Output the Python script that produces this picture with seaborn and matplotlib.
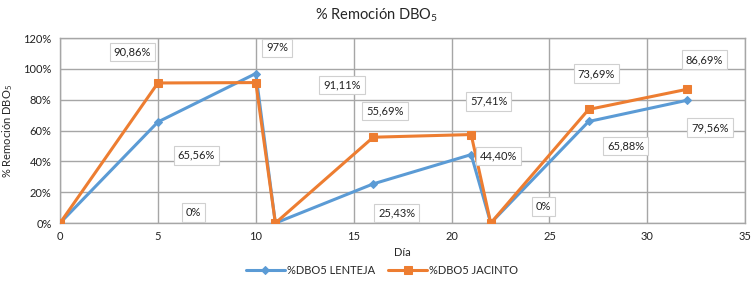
import matplotlib
matplotlib.use("Agg")
import matplotlib.pyplot as plt
import seaborn as sns
import pandas as pd
from matplotlib.ticker import FuncFormatter

# datos
dias = [0, 5, 10, 11, 16, 21, 22, 27, 32]
lenteja = [0, 65.56, 97, 0, 25.43, 44.40, 0, 65.88, 79.56]
jacinto = [0, 90.86, 91.11, 0, 55.69, 57.41, 0, 73.69, 86.69]

# etiquetas de datos (texto) y donde estan colocadas
etiquetas = ["90,86%", "97%", "91,11%", "65,56%", "0%", "55,69%", "57,41%",
             "44,40%", "25,43%", "0%", "73,69%", "86,69%", "65,88%", "79,56%"]
pos_etiquetas = [(3.7, 111), (11.1, 113.6), (14.4, 89.6), (6.95, 44), (6.8, 7),
                 (16.6, 72.7), (21.9, 79), (22.4, 43.5), (17.2, 6.5), (24.7, 11),
                 (27.4, 97), (32.9, 106), (28.9, 50), (33.2, 62)]

azul = "#5B9BD5"
naranja = "#ED7D31"

sns.set_style("white")
plt.rcParams["font.family"] = ["Lato", "DejaVu Sans"]
plt.rcParams["mathtext.default"] = "regular"

df = pd.DataFrame({"dia": dias, "lenteja": lenteja, "jacinto": jacinto})

fig = plt.figure(figsize=(7.53, 2.86), dpi=100)
ax = fig.add_axes([0.0797, 0.22, 0.910, 0.647])

sns.lineplot(data=df, x="dia", y="lenteja", ax=ax, color=azul, marker="D",
             markersize=4.5, markeredgecolor=azul, linewidth=2.2,
             label="%DBO5 LENTEJA", zorder=3)
sns.lineplot(data=df, x="dia", y="jacinto", ax=ax, color=naranja, marker="s",
             markersize=6, markeredgecolor=naranja, linewidth=2.2,
             label="%DBO5 JACINTO", zorder=4)

for txt, (px, py) in zip(etiquetas, pos_etiquetas):
    ax.text(px, py, txt, ha="center", va="center", fontsize=8, color="#222222",
            bbox=dict(boxstyle="square,pad=0.35", fc="white", ec="#D0D0D0", lw=0.8),
            zorder=5)

ax.set_xlim(0, 35)
ax.set_ylim(0, 120)
ax.set_xticks(range(0, 36, 5))
ax.set_yticks(range(0, 121, 20))
ax.yaxis.set_major_formatter(FuncFormatter(lambda v, p: f"{int(v)}%"))
ax.grid(True, color="#A6A6A6", linewidth=1)
for s in ax.spines.values():
    s.set_color("#A6A6A6")
    s.set_linewidth(1)
ax.tick_params(labelsize=8, colors="#222222", length=0, pad=6)

ax.set_xlabel("Día", fontsize=8, labelpad=3)
ax.set_ylabel("% Remoción DBO$_{5}$", fontsize=8, labelpad=6)
fig.text(0.5, 0.945, "% Remoción DBO$_{5}$", ha="center", va="center", fontsize=10.5)

ax.legend(loc="upper center", bbox_to_anchor=(0.47, -0.2), ncol=2, frameon=False,
          fontsize=8, handlelength=3.5, columnspacing=1.2, handletextpad=0.2,
          borderaxespad=0)

fig.savefig("out.png", dpi=100)
